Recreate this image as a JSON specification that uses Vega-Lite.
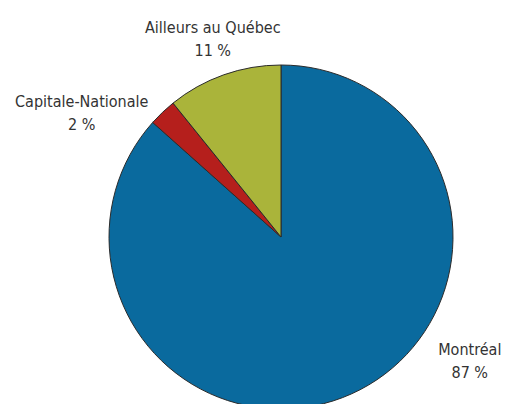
{
  "$schema": "https://vega.github.io/schema/vega-lite/v6.json",
  "width": 562,
  "height": 474,
  "padding": 0,
  "autosize": {"type": "none"},
  "background": "white",
  "config": {"view": {"stroke": null}},
  "data": {"values": [
    {"region": "Montréal", "share": 86.6, "label": "87 %", "order": 1},
    {"region": "Capitale-Nationale", "share": 2.6, "label": "2 %", "order": 2},
    {"region": "Ailleurs au Québec", "share": 10.8, "label": "11 %", "order": 3}
  ]},
  "transform": [
    {"stack": "share", "groupby": [], "sort": [{"field": "order", "order": "ascending"}], "as": ["s0", "s1"]},
    {"calculate": "(datum.s0 + datum.s1) / 2", "as": "mid"},
    {"calculate": "[datum.region, datum.label]", "as": "text"}
  ],
  "layer": [
    {
      "mark": {"type": "arc", "outerRadius": 172, "stroke": "#2b2b2b", "strokeWidth": 1},
      "encoding": {
        "theta": {"field": "s0", "type": "quantitative", "scale": {"domain": [0, 100]}},
        "theta2": {"field": "s1"},
        "color": {
          "field": "region", "type": "nominal", "legend": null,
          "scale": {"domain": ["Montréal", "Capitale-Nationale", "Ailleurs au Québec"],
                    "range": ["#0a6a9e", "#b51f1c", "#aab43a"]}
        }
      }
    },
    {
      "transform": [{"filter": "datum.region == 'Ailleurs au Québec'"}],
      "mark": {"type": "text", "radius": 205, "dy": -16, "font": "DejaVu Sans Condensed", "fontSize": 16, "lineHeight": 23, "fill": "#333333", "baseline": "middle"},
      "encoding": {"theta": {"field": "mid", "type": "quantitative"}, "text": {"field": "text"}}
    },
    {
      "transform": [{"filter": "datum.region == 'Capitale-Nationale'"}],
      "mark": {"type": "text", "radius": 205, "dx": -58, "dy": 14, "font": "DejaVu Sans Condensed", "fontSize": 16, "lineHeight": 23, "fill": "#333333", "baseline": "middle"},
      "encoding": {"theta": {"field": "mid", "type": "quantitative"}, "text": {"field": "text"}}
    },
    {
      "transform": [{"filter": "datum.region == 'Montréal'"}],
      "mark": {"type": "text", "radius": 205, "dx": 105, "dy": -74, "font": "DejaVu Sans Condensed", "fontSize": 16, "lineHeight": 23, "fill": "#333333", "baseline": "middle"},
      "encoding": {"theta": {"field": "mid", "type": "quantitative"}, "text": {"field": "text"}}
    }
  ]
}
